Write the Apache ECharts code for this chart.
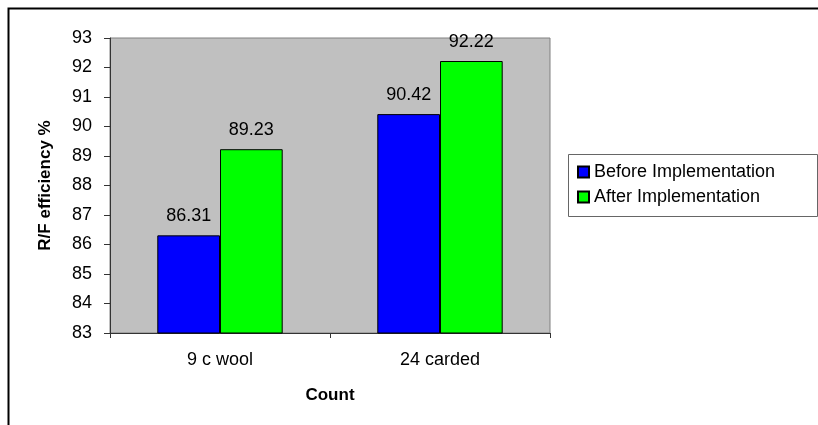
<!DOCTYPE html>
<html>
<head>
<meta charset="utf-8">
<script src="https://cdn.jsdelivr.net/npm/echarts@6/dist/echarts.min.js"></script>
<style>
  html, body { margin: 0; padding: 0; background: #fff; }
  #chart { width: 818px; height: 425px; }
</style>
</head>
<body>
<div id="chart"></div>
<script>
// R/F efficiency per count, before and after implementation
const categories = ['9 c wool', '24 carded'];
const beforeValues = [86.31, 90.42];
const afterValues = [89.23, 92.22];
const seriesNames = ['Before Implementation', 'After Implementation'];
const yMin = 83;
const yMax = 93;
const yStep = 1;

const FONT = '"Liberation Sans", Arial, sans-serif';

const chart = echarts.init(document.getElementById('chart'), null, { renderer: 'canvas' });

const barLabel = {
  show: true,
  position: 'top',
  distance: 10,
  color: '#000',
  fontFamily: FONT,
  fontSize: 18,
  formatter: p => p.value.toFixed(2)
};

chart.setOption({
  animation: false,
  backgroundColor: '#fff',
  textStyle: { fontFamily: FONT },
  graphic: [
    {
      type: 'rect',
      left: 6, top: 6,
      shape: { width: 900, height: 500 },
      style: { fill: 'none', stroke: '#000', lineWidth: 2 },
      z: 100
    },
    {
      type: 'rect',
      left: 568, top: 154,
      shape: { width: 249, height: 62 },
      style: { fill: '#fff', stroke: '#666', lineWidth: 1 },
      z: 0
    }
  ],
  grid: {
    left: 110, top: 38, right: 268, bottom: 92,
    show: true,
    backgroundColor: '#C0C0C0',
    borderColor: '#808080',
    borderWidth: 1
  },
  legend: {
    orient: 'vertical',
    left: 577,
    top: 163,
    padding: 0,
    itemGap: 7,
    itemWidth: 11,
    itemHeight: 11,
    icon: 'rect',
    textStyle: { fontFamily: FONT, fontSize: 18, color: '#000' },
    data: seriesNames
  },
  xAxis: {
    type: 'category',
    data: categories,
    name: 'Count',
    nameLocation: 'middle',
    nameGap: 54,
    nameTextStyle: { fontFamily: FONT, fontSize: 17, fontWeight: 'bold', color: '#000' },
    axisLine: { lineStyle: { color: '#333', width: 1 } },
    axisTick: { show: true, alignWithLabel: false, length: 5, lineStyle: { color: '#333' } },
    axisLabel: { margin: 18, fontFamily: FONT, fontSize: 18, color: '#000' }
  },
  yAxis: {
    type: 'value',
    min: yMin,
    max: yMax,
    interval: yStep,
    name: 'R/F efficiency %',
    nameLocation: 'middle',
    nameRotate: 90,
    nameGap: 56,
    nameTextStyle: { fontFamily: FONT, fontSize: 17, fontWeight: 'bold', color: '#000' },
    axisLine: { show: true, lineStyle: { color: '#333', width: 1 } },
    axisTick: { show: true, inside: false, length: 6, lineStyle: { color: '#333' } },
    splitLine: { show: false },
    axisLabel: { margin: 18, fontFamily: FONT, fontSize: 18, color: '#000' }
  },
  series: [
    {
      name: seriesNames[0],
      type: 'bar',
      data: beforeValues,
      barGap: '0%',
      barCategoryGap: '43%',
      itemStyle: { color: '#0000FF', borderColor: '#000', borderWidth: 1 },
      label: barLabel
    },
    {
      name: seriesNames[1],
      type: 'bar',
      data: afterValues,
      itemStyle: { color: '#00FF00', borderColor: '#000', borderWidth: 1 },
      label: barLabel
    }
  ]
});
</script>
</body>
</html>
